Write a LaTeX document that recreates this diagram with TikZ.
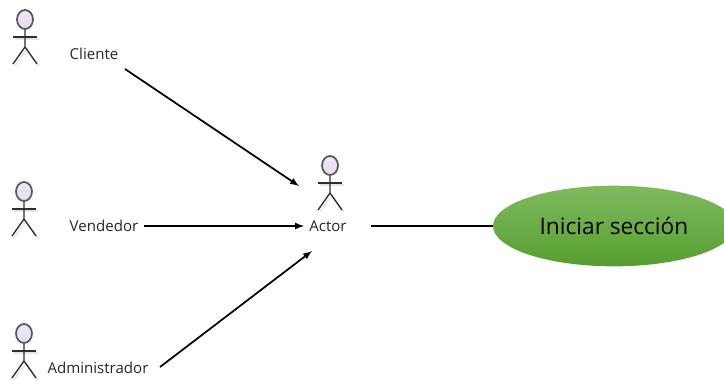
\documentclass[tikz,border=0pt]{standalone}
\usepackage{fontspec}
\setmainfont{Open Sans}
\usetikzlibrary{shapes.geometric}
\definecolor{headfill}{HTML}{E6DCF0}
\definecolor{headline}{HTML}{5A565E}
\definecolor{figline}{HTML}{2E2E2E}
\definecolor{usetop}{HTML}{7FBA5F}
\definecolor{usebot}{HTML}{579E30}
\tikzset{
  rolelabel/.style={inner sep=3.75pt,font=\fontsize{11.3}{13}\selectfont,text=black!85},
  arrowline/.style={line width=1.3pt,-{latex}},
  plainline/.style={line width=1.3pt},
  usecase/.style={ellipse,inner sep=0pt,minimum width=181.5pt,minimum height=60.5pt,
    top color=usetop,bottom color=usebot,font=\fontsize{17}{20}\selectfont},
  pics/actorfig/.style={code={
    % sombra:
    \draw[black!10,line width=1pt] (-10,29) -- (14,29);
    \draw[black!10,line width=1pt] (2,39) -- (-10,56);
    \draw[black!10,line width=1pt] (2,39) -- (14,56);
    % figura:
    \draw[figline,line width=1pt] (-12,27) -- (12,27);
    \draw[figline,line width=1pt] (0,19) -- (0,37) -- (-12,54);
    \draw[figline,line width=1pt] (0,37) -- (12,54);
    \draw[headline,line width=1.3pt,top color=headfill!70!white,bottom color=headfill] (0,9.5) ellipse (8 and 9.5);
  }}
}
\begin{document}
\begin{tikzpicture}[x=.75pt,y=-.75pt]
\useasboundingbox (0,0) rectangle (724,379);

% Cliente:
\pic at (25,10) {actorfig};
\node[rolelabel] (cliente) at (94,54) {Cliente};

% Vendedor:
\pic at (24,182) {actorfig};
\node[rolelabel] (vendedor) at (104,226) {Vendedor};

% Administrador:
\pic at (24,324) {actorfig};
\node[rolelabel] (administrador) at (98,368) {Administrador};

% Actor:
\pic at (330,156) {actorfig};
\node[rolelabel] (actor) at (328,226) {Actor};

% caso de uso:
\node[usecase] (iniciar) at (614,226) {Iniciar sección};

% conexiones:
\coordinate (clienteout) at (125,69);
\coordinate (actornorte) at (299,186);
\coordinate (adminout) at (160,367);
\coordinate (actorsur) at (312,251);
\coordinate (actorout) at (371,226);
\draw[arrowline] (clienteout) -- (actornorte);
\draw[arrowline] (vendedor) -- (actor);
\draw[arrowline] (adminout) -- (actorsur);
\draw[plainline] (actorout) -- (iniciar);
\end{tikzpicture}
\end{document}
